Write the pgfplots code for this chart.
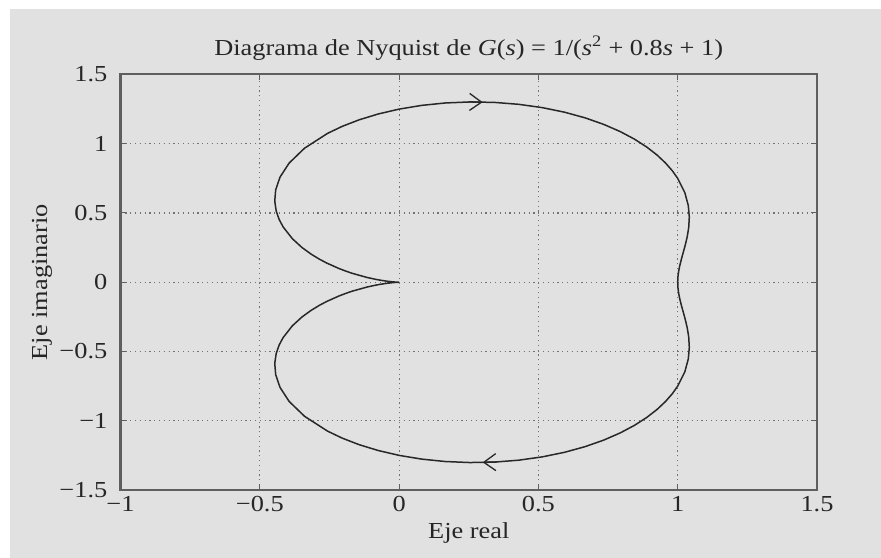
\documentclass[border=0pt]{standalone}
\usepackage{fontspec}
\setmainfont{Liberation Serif}[FakeStretch=1.15]
\usepackage{pgfplots}
\pgfplotsset{compat=1.18}
\usepackage{pgfplotstable}
\usetikzlibrary{arrows.meta}

\definecolor{panel}{RGB}{225,225,225}
\definecolor{frame}{RGB}{95,95,95}
\definecolor{trace}{RGB}{40,40,40}
\definecolor{gridc}{RGB}{115,115,115}

% G(jw) = 1/(1 - w^2 + 0.8jw), traced from w = -inf to +inf
\pgfplotstableread{
x y
0.00000 0.00000
-0.00250 0.00010
-0.01004 0.00081
-0.02055 0.00240
-0.04054 0.00676
-0.06376 0.01360
-0.08370 0.02083
-0.11468 0.03440
-0.16634 0.06337
-0.18854 0.07837
-0.21521 0.09864
-0.25952 0.13841
-0.28611 0.16662
-0.31588 0.20307
-0.34860 0.25084
-0.38310 0.31434
-0.41632 0.39967
-0.43048 0.45293
-0.44118 0.51471
-0.44631 0.58604
-0.44296 0.66765
-0.42730 0.75964
-0.39455 0.86083
-0.33933 0.96800
-0.25657 1.07514
-0.20374 1.12592
-0.14313 1.17300
-0.07500 1.21488
0.00000 1.25000
0.08083 1.27693
0.16607 1.29448
0.25398 1.30180
0.34265 1.29847
0.43010 1.28456
0.51445 1.26064
0.59408 1.22768
0.66766 1.18694
0.73428 1.13991
0.79342 1.08812
0.84494 1.03307
0.88897 0.97612
0.92590 0.91845
0.95627 0.86106
0.98075 0.80471
1.00000 0.75000
1.02557 0.64696
1.03806 0.55363
1.04165 0.47021
1.03960 0.39604
1.03429 0.33003
1.02744 0.27097
1.02023 0.21765
1.01351 0.16892
1.00783 0.12372
1.00355 0.08109
1.00090 0.04014
1.00000 0.00000
1.00090 -0.04014
1.00355 -0.08109
1.00783 -0.12372
1.01351 -0.16892
1.02023 -0.21765
1.02744 -0.27097
1.03429 -0.33003
1.03960 -0.39604
1.04165 -0.47021
1.03806 -0.55363
1.02557 -0.64696
1.00000 -0.75000
0.98075 -0.80471
0.95627 -0.86106
0.92590 -0.91845
0.88897 -0.97612
0.84494 -1.03307
0.79342 -1.08812
0.73428 -1.13991
0.66766 -1.18694
0.59408 -1.22768
0.51445 -1.26064
0.43010 -1.28456
0.34265 -1.29847
0.25398 -1.30180
0.16607 -1.29448
0.08083 -1.27693
0.00000 -1.25000
-0.07500 -1.21488
-0.14313 -1.17300
-0.20374 -1.12592
-0.25657 -1.07514
-0.33933 -0.96800
-0.39455 -0.86083
-0.42730 -0.75964
-0.44296 -0.66765
-0.44631 -0.58604
-0.44118 -0.51471
-0.43048 -0.45293
-0.41632 -0.39967
-0.38310 -0.31434
-0.34860 -0.25084
-0.31588 -0.20307
-0.28611 -0.16662
-0.25952 -0.13841
-0.21521 -0.09864
-0.18854 -0.07837
-0.16634 -0.06337
-0.11468 -0.03440
-0.08370 -0.02083
-0.06376 -0.01360
-0.04054 -0.00676
-0.02055 -0.00240
-0.01004 -0.00081
-0.00250 -0.00010
0.00000 0.00000
}\nyquist

\begin{document}
\begin{tikzpicture}
\useasboundingbox (0,0) rectangle (881bp,558bp);
\fill[white] (0,0) rectangle (881bp,558bp);
\fill[panel] (10bp,0) rectangle (881bp,549bp);
\begin{axis}[
  at={(120.5bp,68bp)}, anchor=south west,
  width=696.5bp, height=415.5bp, scale only axis,
  xmin=-1, xmax=1.5, ymin=-1.5, ymax=1.5,
  xtick={-1,-0.5,0,0.5,1,1.5},
  xticklabels={−1,−0.5,0,0.5,1,1.5},
  ytick={-1.5,-1,-0.5,0,0.5,1,1.5},
  yticklabels={−1.5,−1,−0.5,0,0.5,1,1.5},
  grid=major,
  major grid style={gridc, line width=1.1bp, dash pattern=on 1.2bp off 3.6bp},
  separate axis lines,
  axis line style={frame, line width=2bp, line cap=rect},
  tick style={frame, line width=1bp},
  tick align=inside, major tick length=6bp,
  ticklabel style={font=\fontsize{23}{27}\selectfont, text=black!85},
  xticklabel style={anchor=base, yshift=-21.5bp},
  yticklabel style={anchor=east, inner sep=0pt, xshift=-13bp},
  title={Diagrama de Nyquist de \textit{G}(\textit{s}) = 1/(\textit{s}\textsuperscript{2} + 0.8\textit{s} + 1)},
  title style={at={(axis description cs:0.5,1.0325)}, anchor=base, inner sep=0pt,
    font=\fontsize{23}{27}\selectfont, text=black!85},
  xlabel={Eje real},
  xlabel style={at={(axis description cs:0.5,-0.116)}, anchor=base, inner sep=0pt,
    font=\fontsize{23}{27}\selectfont, text=black!85},
  ylabel={Eje imaginario},
  ylabel style={at={(axis description cs:-0.1055,0.5)}, anchor=base, inner sep=0pt,
    font=\fontsize{23}{27}\selectfont, text=black!85},
]
\addplot[trace, line width=1.5bp, no markers] table {\nyquist};
% direction of travel
\addplot[trace, line width=1.5bp, no markers,
  -{Straight Barb[length=12bp, width=17bp, line width=1.3bp]}]
  coordinates {(0.25,1.3020) (0.30,1.3002)};
\addplot[trace, line width=1.5bp, no markers,
  -{Straight Barb[length=12bp, width=17bp, line width=1.3bp]}]
  coordinates {(0.35,-1.2988) (0.30,-1.3002)};
\end{axis}
\end{tikzpicture}
\end{document}
